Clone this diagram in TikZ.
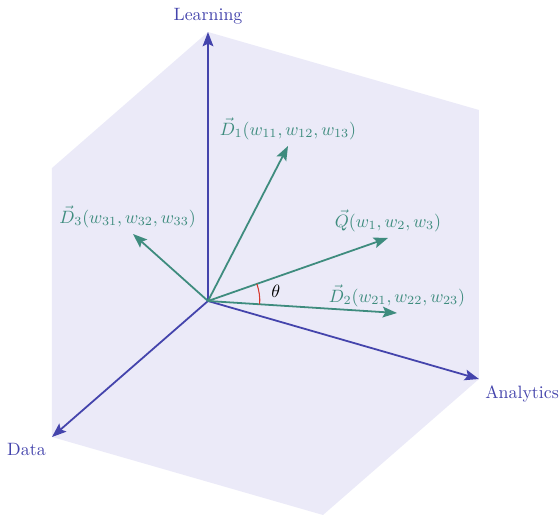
\documentclass[tikz,border=0pt]{standalone}
\usepackage{amsmath}
\usetikzlibrary{arrows.meta, positioning, angles, quotes}
\definecolor{axisblue}{RGB}{68,68,172}
\definecolor{vecgreen}{RGB}{62,140,126}
\definecolor{planefill}{RGB}{235,234,248}
\definecolor{anglered}{RGB}{214,57,46}
\tikzstyle{axis}=[draw=axisblue,line width=1pt,-{Stealth[length=8pt,width=6pt,inset=1.5pt]}]
\tikzstyle{vect}=[draw=vecgreen,line width=1pt,-{Stealth[length=8pt,width=6pt,inset=1.5pt]}]
\tikzstyle{axislabel}=[text=axisblue]
\tikzstyle{veclabel}=[text=vecgreen]

\begin{document}
\begin{tikzpicture}[x=0.56pt,y=0.56pt]
    \useasboundingbox (-208,-215) rectangle (352,301);
    % cube corners
    \coordinate (O) at (0,0);
    \coordinate (L) at (0,269);
    \coordinate (A) at (271,-78);
    \coordinate (D) at (-156,-136);
    \coordinate (LA) at (271,191);
    \coordinate (AD) at (115,-214);
    \coordinate (DL) at (-156,133);
    \fill[planefill] (L) -- (LA) -- (A) -- (AD) -- (D) -- (DL) -- cycle;
    % vector tips
    \coordinate (d1) at (80,155);
    \coordinate (d2) at (189,-12);
    \coordinate (d3) at (-75,67);
    \coordinate (q) at (180,63);
    \node[axislabel, above=1pt] (learn) at (L) {Learning};
    \node[axislabel, below right] (anal) at (A) {Analytics};
    \node[axislabel, below left] (data) at (D) {Data};
    \node[veclabel, above] (d1lab) at (d1) {$\vec{D}_1(w_{11},w_{12},w_{13})$};
    \node[veclabel, above] (d2lab) at (d2) {$\vec{D}_2(w_{21},w_{22},w_{23})$};
    \node[veclabel, above, xshift=-3pt] (d3lab) at (d3) {$\vec{D}_3(w_{31},w_{32},w_{33})$};
    \node[veclabel, above] (qlab) at (q) {$\vec{Q}(w_1,w_2,w_3)$};
    \draw[axis] (O) -- (L);
    \draw[axis] (O) -- (A);
    \draw[axis] (O) -- (D);
    \draw[vect] (O) -- (d1);
    \draw[vect] (O) -- (d2);
    \draw[vect] (O) -- (d3);
    \draw[vect] (O) -- (q);
    \pic[draw=anglered, line width=0.6pt, angle radius=29pt, "$\theta$", angle eccentricity=1.32] {angle = d2--O--q};
\end{tikzpicture}
\end{document}
